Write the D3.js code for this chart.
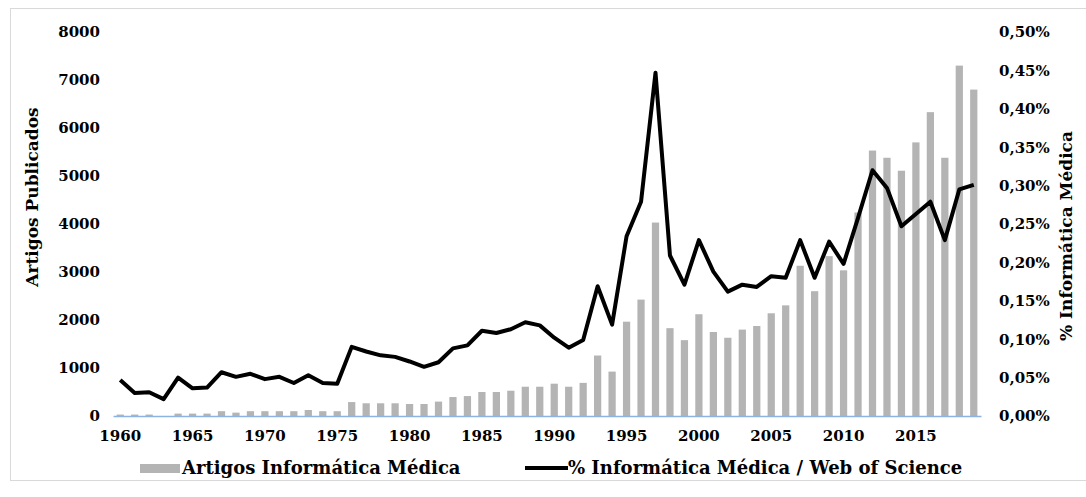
<!DOCTYPE html>
<html>
<script src="https://cdn.jsdelivr.net/npm/d3@7"></script>
<style>
    body { margin: 0; background: #fff; }
    text { font-family: "DejaVu Serif", Georgia, serif; font-weight: bold; fill: #000; }
    .tick text { font-size: 15px; }
</style>
<body>
<svg width="1086" height="497"></svg>
<script>
    const years = d3.range(1960, 2020);
    const artigos = [30, 30, 30, 0, 50, 50, 50, 100, 70, 100,
        100, 100, 100, 125, 100, 100, 290, 265, 265, 265,
        250, 250, 300, 395, 415, 500, 500, 527, 610, 610,
        673, 610, 690, 1260, 925, 1965, 2425, 4030, 1830, 1580,
        2120, 1750, 1630, 1800, 1875, 2140, 2305, 3130, 2600, 3330,
        3035, 4240, 5530, 5380, 5110, 5700, 6330, 5380, 7300, 6800];
    const percent = [0.047, 0.030, 0.031, 0.022, 0.050, 0.036, 0.037, 0.057, 0.051, 0.055,
        0.048, 0.051, 0.043, 0.053, 0.043, 0.042, 0.090, 0.084, 0.079, 0.077,
        0.071, 0.064, 0.070, 0.088, 0.092, 0.111, 0.108, 0.113, 0.122, 0.118,
        0.102, 0.089, 0.099, 0.169, 0.119, 0.234, 0.279, 0.447, 0.209, 0.171,
        0.229, 0.188, 0.162, 0.171, 0.168, 0.182, 0.180, 0.229, 0.180, 0.227,
        0.198, 0.258, 0.320, 0.297, 0.247, 0.263, 0.279, 0.229, 0.295, 0.301];
    const leftTicks = [0, 1000, 2000, 3000, 4000, 5000, 6000, 7000, 8000];
    const rightTicks = [0, 0.05, 0.1, 0.15, 0.2, 0.25, 0.3, 0.35, 0.4, 0.45, 0.5];
    const yearTicks = [1960, 1965, 1970, 1975, 1980, 1985, 1990, 1995, 2000, 2005, 2010, 2015];

    const svg = d3.select('svg');

    // outer frame
    svg.append('rect')
        .attr('x', 10.5).attr('y', 8.5)
        .attr('width', 1080).attr('height', 472)
        .attr('fill', 'none').attr('stroke', '#d9d9d9');

    const x = d3.scaleBand()
        .domain(years)
        .range([113, 981])
        .paddingInner(0.5)
        .paddingOuter(0.25);

    const y = d3.scaleLinear().domain([0, 8000]).range([416, 32]);
    const y2 = d3.scaleLinear().domain([0, 0.5]).range([416, 32]);

    // bars
    svg.append('g')
        .selectAll('rect')
        .data(years)
        .enter()
        .append('rect')
        .attr('x', d => x(d))
        .attr('y', (d, i) => y(artigos[i]))
        .attr('width', x.bandwidth())
        .attr('height', (d, i) => y(0) - y(artigos[i]))
        .attr('fill', '#b4b4b4');

    // x axis
    const gx = svg.append('g').attr('transform', 'translate(0,416)')
        .call(d3.axisBottom(x).tickValues(yearTicks).tickSize(0).tickPadding(14));
    gx.select('.domain').attr('stroke', '#8db3e2').attr('stroke-width', 1.3);

    // left axis
    const gy = svg.append('g').attr('transform', 'translate(100,0)')
        .call(d3.axisLeft(y).tickValues(leftTicks).tickSize(0).tickPadding(0)
            .tickFormat(d3.format('d')));
    gy.select('.domain').remove();

    // right axis
    const gy2 = svg.append('g').attr('transform', 'translate(999,0)')
        .call(d3.axisRight(y2).tickValues(rightTicks).tickSize(0).tickPadding(0)
            .tickFormat(d => d.toFixed(2).replace('.', ',') + '%'));
    gy2.select('.domain').remove();

    // line
    const line = d3.line()
        .x((d, i) => x(years[i]) + x.bandwidth() / 2)
        .y(d => y2(d));

    svg.append('path')
        .datum(percent)
        .attr('d', line)
        .attr('fill', 'none')
        .attr('stroke', '#000')
        .attr('stroke-width', 4)
        .attr('stroke-linejoin', 'round');

    // axis titles
    svg.append('text')
        .attr('transform', 'translate(38,197) rotate(-90)')
        .attr('text-anchor', 'middle')
        .style('font-size', '17px')
        .text('Artigos Publicados');

    svg.append('text')
        .attr('transform', 'translate(1072,236) rotate(-90)')
        .attr('text-anchor', 'middle')
        .style('font-size', '17px')
        .text('% Informática Médica');

    // legend
    const lg = svg.append('g');
    lg.append('rect')
        .attr('x', 140).attr('y', 464)
        .attr('width', 40).attr('height', 9)
        .attr('fill', '#b4b4b4');
    lg.append('text')
        .attr('x', 182).attr('y', 474)
        .style('font-size', '18px')
        .text('Artigos Informática Médica');
    lg.append('line')
        .attr('x1', 525).attr('x2', 568)
        .attr('y1', 468).attr('y2', 468)
        .attr('stroke', '#000').attr('stroke-width', 4);
    lg.append('text')
        .attr('x', 568).attr('y', 474)
        .style('font-size', '18px')
        .text('% Informática Médica / Web of Science');
</script>
</body>
</html>
